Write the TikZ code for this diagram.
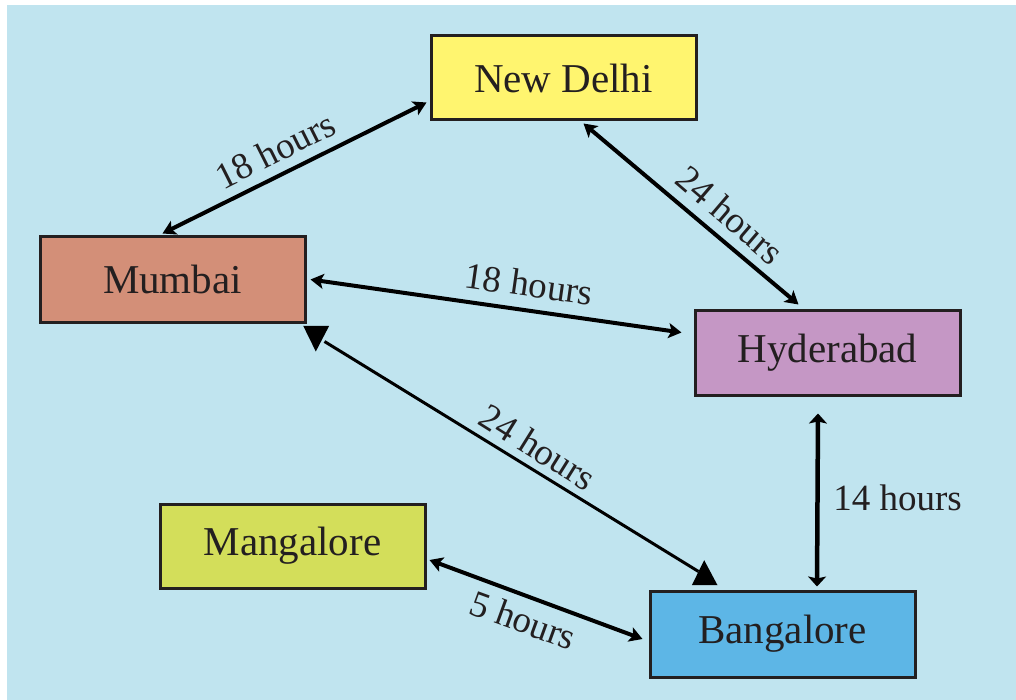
\documentclass[tikz,border=0pt]{standalone}
\usepackage{fontspec}
\setmainfont{Liberation Serif}
\usetikzlibrary{arrows.meta,calc}
\definecolor{bgblue}{RGB}{192,228,239}
\definecolor{ink}{RGB}{35,31,32}
\definecolor{cdelhi}{RGB}{255,245,111}
\definecolor{cmumbai}{RGB}{211,143,120}
\definecolor{chyd}{RGB}{197,151,197}
\definecolor{cmang}{RGB}{211,222,90}
\definecolor{cbang}{RGB}{93,182,230}
\tikzset{
  city/.style={draw=ink, line width=3pt, minimum width=265pt, minimum height=85pt, inner sep=0pt,
    font=\fontsize{41}{41}\selectfont, text=ink},
  lbl/.style={font=\fontsize{37}{37}\selectfont, text=ink, inner sep=0pt},
  link/.style={line width=4pt, black, {Stealth[length=13pt,width=15pt,inset=3pt]}-{Stealth[length=13pt,width=15pt,inset=3pt]}},
  vlink/.style={line width=4.5pt, black, {Stealth[length=10pt,width=18pt,inset=2pt]}-{Stealth[length=10pt,width=18pt,inset=2pt]}},
  thin/.style={line width=3pt, black},
  tri/.style={fill=black}
}
\begin{document}
\begin{tikzpicture}[x=1pt,y=-1pt]
\useasboundingbox (0,0) rectangle (1016,700);
\fill[white] (0,0) rectangle (1016,700);
\fill[bgblue] (7,5) rectangle (1016,700);

\node[city, fill=cdelhi, minimum height=84pt] (delhi) at (563.5,78) {New Delhi};
\node[city, fill=cmumbai] (mumbai) at (172.5,279.5) {Mumbai};
\node[city, fill=chyd] (hyd) at (827.5,352.5) {Hyderabad};
\node[city, fill=cmang, minimum height=84pt] (mang) at (292.5,546) {Mangalore};
\node[city, fill=cbang, minimum height=86pt] (bang) at (782.5,634) {Bangalore};

% Mumbai - New Delhi
\draw[link] ($(mumbai.north west)+(124,-2)$) -- ($(delhi.west)+(-3,24.5)$);
\node[lbl, rotate=26.6] (l1) at (275,150) {18 hours};

% New Delhi - Hyderabad
\draw[link] ($(delhi.south west)+(154,2)$) -- ($(hyd.north west)+(105,-4)$);
\node[lbl, rotate=-40.6] (l2) at (730,215) {24 hours};

% Mumbai - Hyderabad
\draw[link] ($(mumbai.east)+(4,0)$) -- ($(hyd.west)+(-12,-20)$);
\node[lbl, rotate=-8.1] (l3) at (529,284) {18 hours};

% Mumbai - Bangalore
\draw[thin] ($(mumbai.south east)+(18,18)$) -- ($(bang.north west)+(50,-18)$);
\fill[tri] ($(mumbai.south east)+(-3.3,2.3)$) -- ($(mumbai.south east)+(22.7,2.3)$) -- ($(mumbai.south east)+(9.3,28)$) -- cycle;
\fill[tri] ($(bang.north west)+(55.7,-29.3)$) -- ($(bang.north west)+(43.3,-4.3)$) -- ($(bang.north west)+(69,-4.3)$) -- cycle;
\node[lbl, rotate=-32] (l4) at (538,447) {24 hours};

% Hyderabad - Bangalore
\draw[vlink] ($(hyd.south)+(-9.5,17)$) -- ($(bang.north)+(34.5,-3)$);
\node[lbl] (l5) at (897.5,498) {14 hours};

% Mangalore - Bangalore
\draw[link] ($(mang.east)+(3,14)$) -- ($(bang.west)+(-6,5)$);
\node[lbl, rotate=-20] (l6) at (523,620) {5 hours};
\end{tikzpicture}
\end{document}
